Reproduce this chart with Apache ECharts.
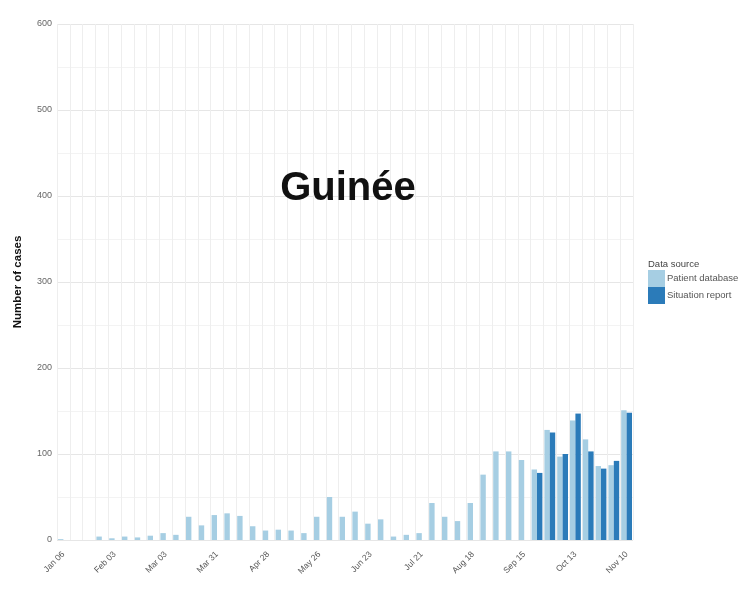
<!DOCTYPE html>
<html>
<head>
<meta charset="utf-8">
<script src="https://cdn.jsdelivr.net/npm/echarts@6/dist/echarts.min.js"></script>
<style>html,body{margin:0;padding:0;background:#fff;}#c{width:753px;height:602px;}</style>
</head>
<body>
<div id="c"></div>
<script>
var weeks = ["Jan 06","Jan 13","Jan 20","Jan 27","Feb 03","Feb 10","Feb 17","Feb 24",
  "Mar 03","Mar 10","Mar 17","Mar 24","Mar 31","Apr 07","Apr 14","Apr 21","Apr 28",
  "May 05","May 12","May 19","May 26","Jun 02","Jun 09","Jun 16","Jun 23","Jun 30",
  "Jul 07","Jul 14","Jul 21","Jul 28","Aug 04","Aug 11","Aug 18","Aug 25",
  "Sep 01","Sep 08","Sep 15","Sep 22","Sep 29","Oct 06","Oct 13","Oct 20","Oct 27",
  "Nov 03","Nov 10"];
var patientDatabase = [1,0,0,4,2,4,3,5,8,6,27,17,29,31,28,16,11,12,11,8,27,50,27,33,19,24,4,6,8,43,27,22,43,76,103,103,93,82,128,97,139,117,86,87,151];
var situationReport = [null,null,null,null,null,null,null,null,null,null,null,null,null,null,null,null,null,null,null,null,null,null,null,null,null,null,null,null,null,null,null,null,null,null,null,null,null,78,125,100,147,103,83,92,148];
var yTicks = [0,100,200,300,400,500,600];

var chart = echarts.init(document.getElementById('c'));
var font = 'Liberation Sans, Arial, sans-serif';
chart.setOption({
  backgroundColor: '#ffffff',
  animation: false,
  textStyle: {fontFamily: font},
  title: {
    text: 'Guinée', left: 343, top: 164, textAlign: 'center',
    textStyle: {fontSize: 40, fontWeight: 'bold', color: '#111', fontFamily: font}
  },
  legend: {
    orient: 'vertical', left: 648, top: 270, itemWidth: 17, itemHeight: 17, itemGap: 0,
    padding: 0, icon: 'rect',
    textStyle: {fontSize: 9.5, color: '#555', fontFamily: font, padding: [0,0,0,-3]},
    data: ['Patient database', 'Situation report']
  },
  graphic: [{
    type: 'text', left: 648, top: 259,
    style: {text: 'Data source', fontSize: 9.5, fill: '#444', fontFamily: font}
  }],
  grid: {left: 57, width: 576, top: 24, height: 516, containLabel: false},
  xAxis: {
    type: 'category', data: weeks, boundaryGap: true,
    axisLine: {show: false}, axisTick: {show: false},
    axisLabel: {
      rotate: 45, fontSize: 8.5, color: '#555', margin: 13,
      interval: function (i) { return i % 4 === 0; }
    },
    splitLine: {show: true, interval: 0, lineStyle: {color: '#eeeeee', width: 1}}
  },
  yAxis: {
    type: 'value', min: yTicks[0], max: yTicks[yTicks.length - 1], interval: 100,
    name: 'Number of cases', nameLocation: 'middle', nameGap: 33,
    nameTextStyle: {fontSize: 11.5, fontWeight: 'bold', color: '#111', fontFamily: font},
    axisLine: {show: false}, axisTick: {show: false},
    axisLabel: {fontSize: 9, color: '#666', margin: 5},
    splitLine: {lineStyle: {color: '#e6e6e6', width: 1}},
    minorTick: {show: false, splitNumber: 2},
    minorSplitLine: {show: true, lineStyle: {color: '#f3f3f3', width: 1}}
  },
  series: [
    {name: 'Patient database', type: 'bar', data: patientDatabase, barWidth: 5.4, barGap: '0%',
     itemStyle: {color: '#a6cee3'}},
    {name: 'Situation report', type: 'bar', data: situationReport, barWidth: 5.4, barGap: '0%',
     itemStyle: {color: '#2b7bb9'}}
  ]
});
</script>
</body>
</html>
